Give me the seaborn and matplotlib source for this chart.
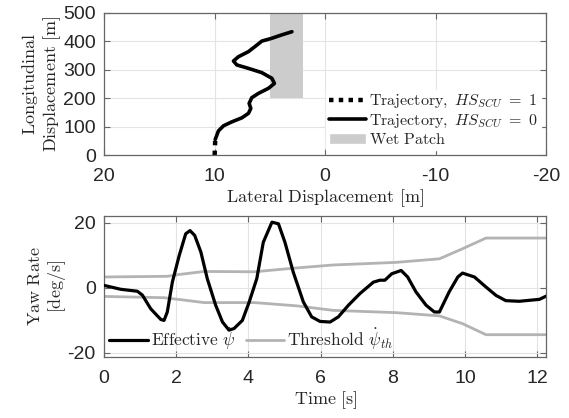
import numpy as np
import pandas as pd
import seaborn as sns
import matplotlib.pyplot as plt
from matplotlib.patches import Patch
from matplotlib.lines import Line2D

# trajectory (lateral [m], longitudinal [m])
lat_dotted = [10.0, 9.97, 9.95]
lon_dotted = [0, 30, 55]
lat_solid = [9.95, 9.86, 9.66, 9.2, 8.44, 7.54, 6.94, 6.73, 6.88, 6.64, 6.04,
             5.13, 4.59, 4.82, 5.73, 6.94, 7.99, 8.3, 7.85, 6.94, 6.18, 5.73,
             4.82, 3.92, 3.01]
lon_solid = [55, 64, 85, 103, 117, 131, 147, 164, 182, 202, 217,
             235, 252, 270, 290, 305, 317, 331, 346, 364, 387, 401,
             411, 423, 434]
wet_lat = [5, 2]
wet_lon = [200, 500]

# yaw rate [deg/s] over time [s]
t_yaw = [0.0, 0.46, 0.92, 1.06, 1.29, 1.57, 1.66, 1.75, 1.89, 2.08, 2.26, 2.38,
         2.51, 2.68, 2.86, 3.09, 3.28, 3.46, 3.6, 3.83, 4.02, 4.23, 4.41, 4.65,
         4.83, 5.01, 5.24, 5.52, 5.75, 5.98, 6.26, 6.49, 6.77, 7.09, 7.46, 7.64,
         7.78, 7.97, 8.23, 8.41, 8.64, 8.92, 9.15, 9.29, 9.56, 9.8, 9.93, 10.26,
         10.58, 10.86, 11.13, 11.5, 12.06, 12.25]
yaw = [0.7, -0.5, -1.1, -2.3, -6.5, -9.8, -10.1, -7.5, 1.7, 9.9, 16.6, 17.6,
       16.1, 11.0, 2.7, -5.4, -10.6, -13.1, -12.6, -10.1, -4.4, 2.8, 14.0, 20.2,
       19.7, 14.0, 4.8, -4.4, -9.0, -10.4, -10.6, -9.0, -5.4, -1.8, 1.7, 2.3,
       2.3, 4.3, 5.3, 3.3, -1.3, -5.4, -7.5, -7.5, -1.3, 3.3, 4.5, 3.3,
       0.2, -2.4, -4.0, -4.2, -3.6, -2.6]

t_up = [0.0, 1.75, 2.03, 2.77, 4.16, 5.24, 6.35, 8.09, 9.29, 9.93, 10.58, 12.25]
th_up = [3.3, 3.5, 4.0, 5.0, 4.9, 6.0, 7.0, 7.8, 8.9, 12.0, 15.3, 15.3]
t_lo = [0.0, 1.66, 2.12, 2.77, 4.16, 5.33, 6.35, 8.09, 9.29, 9.93, 10.58, 12.25]
th_lo = [-2.7, -3.1, -3.7, -4.6, -4.6, -5.6, -7.0, -7.7, -8.7, -11.1, -14.5, -14.5]

sns.set_style("ticks")
plt.rcParams["font.family"] = ["Liberation Sans", "DejaVu Sans"]
plt.rcParams["mathtext.fontset"] = "cm"
plt.rcParams["axes.unicode_minus"] = False
plt.rcParams["axes.edgecolor"] = "#666666"

fig = plt.figure(figsize=(5.69, 4.18), dpi=100)
ax1 = fig.add_axes([0.183, 0.629, 0.777, 0.340])
ax2 = fig.add_axes([0.183, 0.145, 0.777, 0.339])

gray = "#b3b3b3"


def style(ax):
    ax.grid(True, color="#e3e3e3", lw=0.8)
    ax.set_axisbelow(True)
    ax.tick_params(direction="in", length=4, width=0.8, color="#666666",
                   labelsize=14, top=True, right=True, pad=9)
    ax.tick_params(axis="y", pad=6)
    for s in ax.spines.values():
        s.set_linewidth(0.9)


# top: trajectory
ax1.fill_betweenx(wet_lon, wet_lat[0], wet_lat[1], color="#cccccc", lw=0, zorder=1)
sns.lineplot(x=lat_dotted, y=lon_dotted, sort=False, estimator=None, ax=ax1,
             color="black", lw=3.2, linestyle=(0, (1, 1.2)))
sns.lineplot(x=lat_solid, y=lon_solid, sort=False, estimator=None, ax=ax1,
             color="black", lw=2.6)
ax1.set_xlim(20, -20)
ax1.set_ylim(0, 500)
ax1.set_xticks([20, 10, 0, -10, -20])
ax1.set_yticks([0, 100, 200, 300, 400, 500])
style(ax1)
ax1.set_xlabel(r"$\mathrm{Lateral\ Displacement\ [m]}$", fontsize=13, labelpad=2)
ax1.set_ylabel("$\\mathrm{Longitudinal}$\n$\\mathrm{Displacement\\ [m]}$",
               fontsize=13, labelpad=0, linespacing=1.1)
h1 = [Line2D([], [], color="black", lw=3.2, linestyle=(0, (1, 1.2))),
      Line2D([], [], color="black", lw=2.6),
      Patch(facecolor="#cccccc")]
l1 = [r"$\mathrm{Trajectory,}\ HS_{SCU}\ =\ 1$",
      r"$\mathrm{Trajectory,}\ HS_{SCU}\ =\ 0$",
      r"$\mathrm{Wet\ Patch}$"]
ax1.legend(h1, l1, loc="lower right", frameon=True, edgecolor="white",
           framealpha=1, fancybox=False, fontsize=11.5, handlelength=2.3,
           handletextpad=0.2, borderpad=0.2, labelspacing=0.15,
           borderaxespad=0.3)

# bottom: yaw rate
df_yaw = pd.DataFrame({"t": t_yaw, "v": yaw})
sns.lineplot(data=df_yaw, x="t", y="v", ax=ax2, color="black", lw=2.3,
             estimator=None, zorder=3)
sns.lineplot(x=t_up, y=th_up, ax=ax2, color=gray, lw=2.0, estimator=None)
sns.lineplot(x=t_lo, y=th_lo, ax=ax2, color=gray, lw=2.0, estimator=None)
ax2.set_xlim(0, 12.25)
ax2.set_ylim(-21.5, 22.2)
ax2.set_xticks([0, 2, 4, 6, 8, 10, 12])
ax2.set_yticks([-20, 0, 20])
style(ax2)
ax2.set_xlabel(r"$\mathrm{Time\ [s]}$", fontsize=13, labelpad=2)
ax2.set_ylabel("$\\mathrm{Yaw\\ Rate}$\n$\\mathrm{[deg/s]}$", fontsize=13,
               labelpad=0, linespacing=1.1)
h2 = [Line2D([], [], color="black", lw=2.3), Line2D([], [], color=gray, lw=2.0)]
l2 = [r"$\mathrm{Effective}\ \dot{\psi}$", r"$\mathrm{Threshold}\ \dot{\psi}_{th}$"]
ax2.legend(h2, l2, loc="lower left", ncol=2, frameon=False, fontsize=12.5,
           handlelength=2.2, handletextpad=0.2, columnspacing=0.6,
           borderaxespad=0.2, borderpad=0.1)

fig.savefig("out.png", dpi=100)
